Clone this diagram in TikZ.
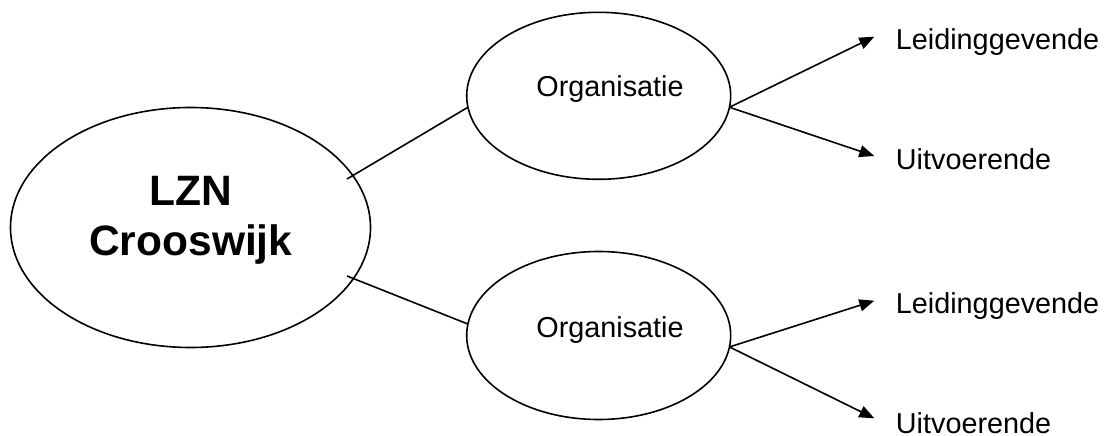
\documentclass[tikz,border=0pt]{standalone}
\usepackage{fontspec}
\setmainfont{Liberation Sans}
\usetikzlibrary{shapes.geometric,arrows.meta}
\begin{document}
\begin{tikzpicture}[x=1pt,y=-1pt,
  oval/.style={draw,ellipse,line width=1.6pt,inner sep=0pt,outer sep=0pt},
  lbl/.style={inner sep=0pt,anchor=base west,font=\fontsize{28.8}{34}\selectfont},
  orgtxt/.style={inner sep=0pt,anchor=base,font=\fontsize{28.8}{34}\selectfont},
  link/.style={line width=1.6pt},
  pointer/.style={line width=1.6pt,-{Triangle[length=15pt,width=12pt]}}]
\useasboundingbox (0,0) rectangle (1104,436);
% ellipses
\node[oval,minimum width=360pt,minimum height=240pt] (big) at (190.5,227.5) {};
\node[oval,minimum width=264pt,minimum height=167pt] (orgA) at (598.7,95.8) {};
\node[oval,minimum width=264pt,minimum height=168pt] (orgB) at (598.7,335.5) {};
% texts
\node[inner sep=0pt,anchor=base,align=center,font=\fontsize{42.5}{50}\selectfont\bfseries] (bigtxt) at (190.8,255) {LZN\\Crooswijk};
\node[orgtxt] (orgAtxt) at (610,97) {Organisatie};
\node[orgtxt] (orgBtxt) at (610,337) {Organisatie};
\node[lbl] (leidA) at (895.7,49.3) {Leidinggevende};
\node[lbl] (uitA) at (895.7,169.3) {Uitvoerende};
\node[lbl] (leidB) at (895.7,313.3) {Leidinggevende};
\node[lbl] (uitB) at (895.7,433.3) {Uitvoerende};
% connector ends
\coordinate (bigTop) at (347,179);
\coordinate (bigBot) at (347,276);
\coordinate (tipLA) at (874.3,36.7);
\coordinate (tipUA) at (874.3,156);
\coordinate (tipLB) at (874.3,300.7);
\coordinate (tipUB) at (874.3,418.3);
% connectors
\draw[link] (bigTop) -- (orgA.185);
\draw[link] (bigBot) -- (orgB.175);
\draw[pointer] (orgA.355) -- (tipLA);
\draw[pointer] (orgA.355) -- (tipUA);
\draw[pointer] (orgB.355) -- (tipLB);
\draw[pointer] (orgB.355) -- (tipUB);
\end{tikzpicture}
\end{document}
